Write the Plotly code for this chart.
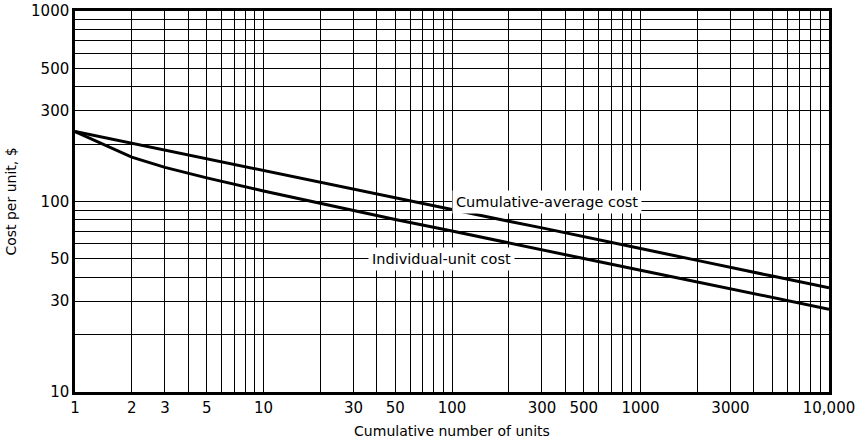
import math
import plotly.graph_objects as go

# Data
units = [1, 2, 3, 5, 10, 20, 30, 50, 100, 200, 300, 500, 1000, 2000, 3000, 5000, 10000]
cum_avg_cost = [233, 202, 186, 167, 145.5, 126, 116.5, 104.5, 90.8, 78.8, 72.7, 65.2, 56.6, 49.1, 45.3, 40.6, 35.2]
unit_cost = [233, 171, 151, 133, 113.5, 97.5, 89.5, 80.5, 70, 60.5, 55.7, 50.2, 43.6, 37.8, 34.8, 31.4, 27.2]

x_label_vals = [1, 2, 3, 5, 10, 30, 50, 100, 300, 500, 1000, 3000, 10000]
x_label_text = ["1", "2", "3", "5", "10", "30", "50", "100", "300", "500", "1000", "3000", "10,000"]
y_label_vals = [10, 30, 50, 100, 300, 500, 1000]
y_label_text = ["10", "30", "50", "100", "300", "500", "1000"]

label_cum = "Cumulative-average cost"
label_unit = "Individual-unit cost"
label_cum_pos = (318, 100)
label_unit_pos = (88, 50)

# grid positions 1..9 per decade
x_grid = [m * 10 ** k for k in range(0, 4) for m in range(1, 10)] + [10000]
y_grid = [m * 10 ** k for k in range(1, 3) for m in range(1, 10)] + [1000]


def texts(grid, vals, labels):
    d = dict(zip(vals, labels))
    return [d.get(g, "") for g in grid]


FONT = "DejaVu Sans"

fig = go.Figure()
fig.add_trace(go.Scatter(x=units, y=cum_avg_cost, mode="lines",
                         line=dict(color="black", width=3), showlegend=False))
fig.add_trace(go.Scatter(x=units, y=unit_cost, mode="lines",
                         line=dict(color="black", width=3), showlegend=False))

for text, (xv, yv) in [(label_cum, label_cum_pos), (label_unit, label_unit_pos)]:
    fig.add_annotation(x=math.log10(xv), y=math.log10(yv), xref="x", yref="y",
                       text=text, showarrow=False, bgcolor="white",
                       borderpad=3, font=dict(family=FONT, size=14.5, color="black"))

fig.update_xaxes(type="log", range=[0, 4], tickvals=x_grid,
                 ticktext=texts(x_grid, x_label_vals, x_label_text),
                 showgrid=True, gridcolor="black", gridwidth=1.4,
                 showline=True, linecolor="black", linewidth=2.5, mirror=True,
                 ticks="", zeroline=False, automargin=False,
                 tickfont=dict(family=FONT, size=15, color="black"),
                 title=dict(text="Cumulative number of units",
                            font=dict(family=FONT, size=14, color="black"),
                            standoff=12))
fig.update_yaxes(type="log", range=[1, 3], tickvals=y_grid,
                 ticktext=texts(y_grid, y_label_vals, y_label_text),
                 showgrid=True, gridcolor="black", gridwidth=1.4,
                 showline=True, linecolor="black", linewidth=2.5, mirror=True,
                 ticks="", zeroline=False, automargin=False,
                 tickfont=dict(family=FONT, size=15, color="black"),
                 title=dict(text="Cost per unit, $",
                            font=dict(family=FONT, size=14, color="black"),
                            standoff=12))

fig.update_layout(width=859, height=439,
                  margin=dict(l=75, r=30, t=11, b=47),
                  plot_bgcolor="white", paper_bgcolor="white",
                  showlegend=False)

fig.write_html("out.html")
